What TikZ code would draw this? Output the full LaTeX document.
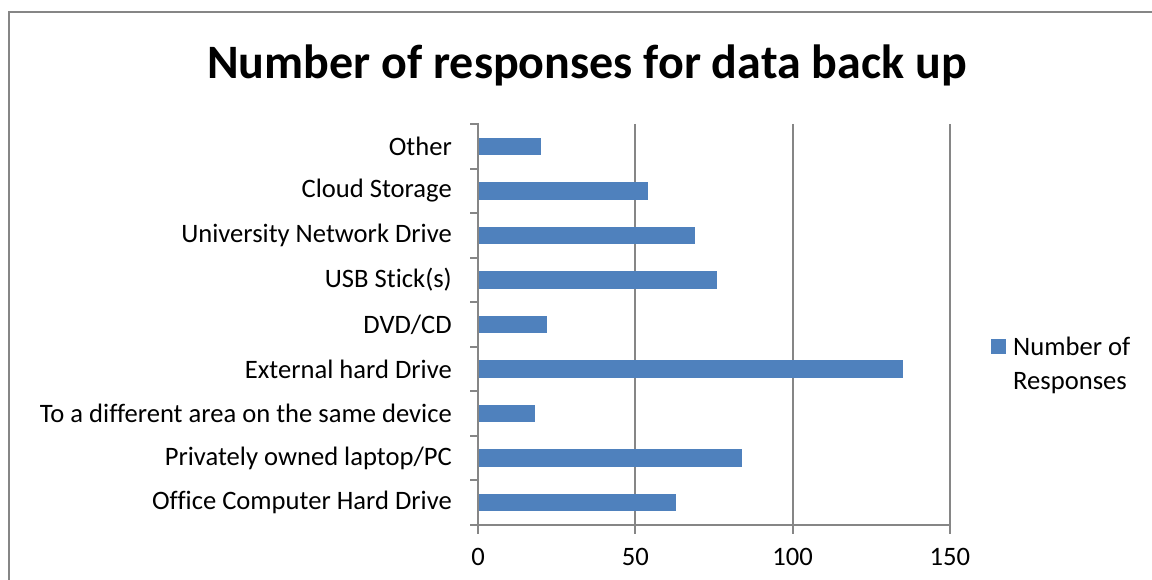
\documentclass[tikz,border=0pt]{standalone}
\usepackage{fontspec}
\setmainfont{Carlito}[Ligatures=NoCommon]
\definecolor{barblue}{HTML}{4F81BD}
\definecolor{gridgray}{HTML}{868686}
\begin{document}
\begin{tikzpicture}[x=1pt,y=-1pt,
  gridline/.style={draw=gridgray,line width=2pt},
  axisline/.style={draw=gridgray,line width=2pt},
  bar/.style={fill=barblue,draw=none},
  catlabel/.style={anchor=east,inner sep=0pt,font=\fontsize{26.6}{30}\selectfont},
  ticklabel/.style={anchor=center,inner sep=0pt,font=\fontsize{26.6}{30}\selectfont},
  titlelabel/.style={anchor=center,inner sep=0pt,font=\fontsize{48}{56}\selectfont\bfseries},
  legendlabel/.style={anchor=north west,inner sep=0pt,align=left,font=\fontsize{26.6}{34}\selectfont}]
\useasboundingbox (0,0) rectangle (1152,580);
\fill[white] (0,0) rectangle (1152,580);
% outer frame (top and left visible)
\draw[draw=gridgray,line width=2pt] (1153,12.5) -- (8.5,12.5) -- (8.5,581);
% title
\node[titlelabel] (title) at (587,65.5) {Number of responses for data back up};
% gridlines
\foreach \k in {1,2,3}{
  \draw[gridline] ({478+50*\k*3.145},124) -- ({478+50*\k*3.145},525);
}
% bars and labels
\foreach \i/\v/\t in {1/20/{Other},2/54/{Cloud Storage},3/69/{University Network Drive},4/76/{USB Stick(s)},5/22/{DVD/CD},6/135/{External hard Drive},7/18/{To a different area on the same device},8/84/{Privately owned laptop/PC},9/63/{Office Computer Hard Drive}}{
  \pgfmathsetmacro{\c}{124+44.55*(\i-0.5)}
  \fill[bar] (478,{\c-8.7}) rectangle ({478+\v*3.145},{\c+8.7});
  \node[catlabel] (cat\i) at (452,\c) {\t};
}
% axes
\draw[axisline] (478,123) -- (478,526);
\draw[axisline] (470,525) -- (951,525);
\foreach \j in {0,...,8}{
  \draw[axisline] (470,{124+44.55*\j}) -- (478,{124+44.55*\j});
}
\foreach \k in {0,1,2,3}{
  \draw[axisline] ({478+50*\k*3.145},525) -- ({478+50*\k*3.145},534);
  \pgfmathtruncatemacro{\lab}{50*\k}
  \node[ticklabel] (tick\k) at ({478+50*\k*3.145},557) {\lab};
}
% legend
\fill[barblue] (991,339) rectangle (1006,354);
\node[legendlabel] (legend) at (1013,337) {Number of\\Responses};
\end{tikzpicture}
\end{document}
